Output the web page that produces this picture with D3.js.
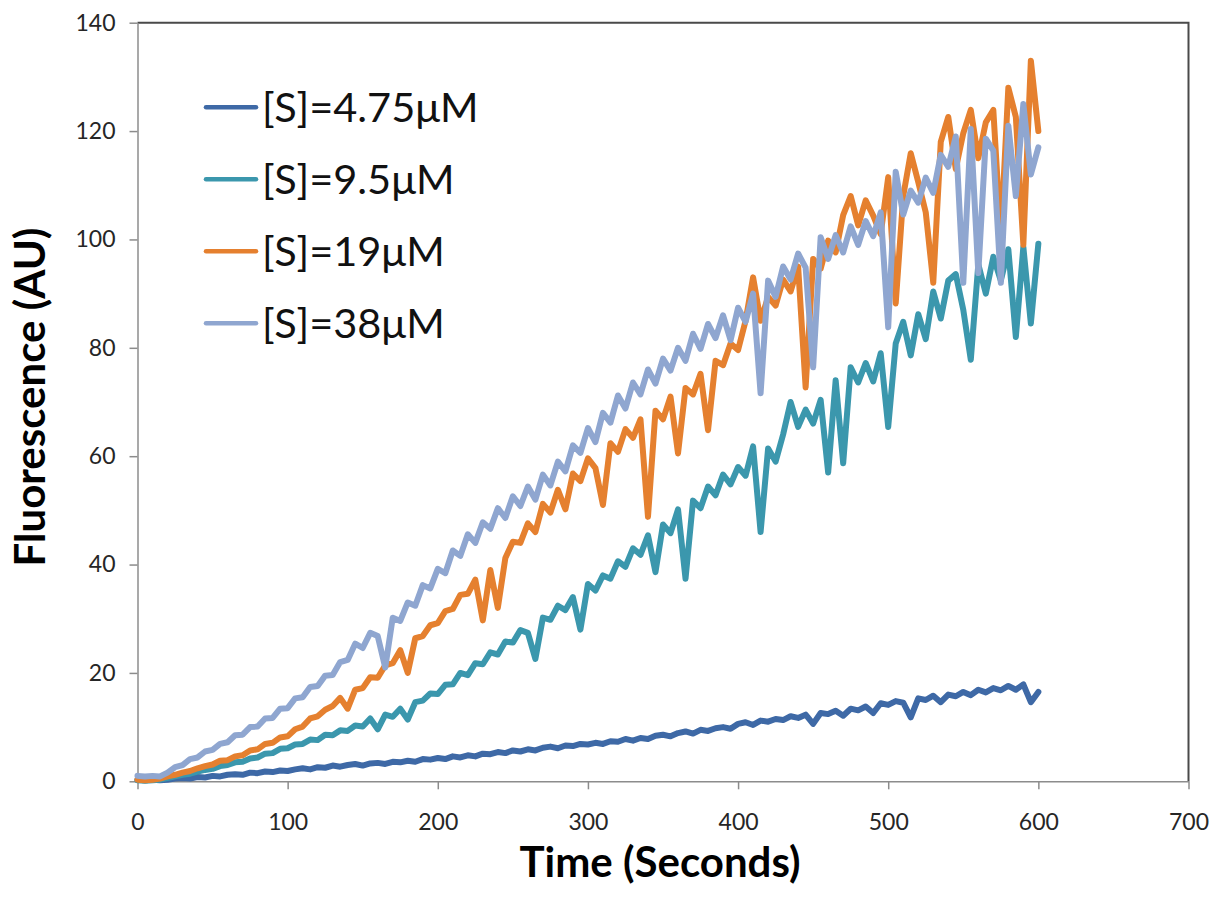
<!DOCTYPE html>
<html>
<head>
<meta charset="utf-8">
<script src="https://cdn.jsdelivr.net/npm/d3@7/dist/d3.min.js"></script>
<style>
  html, body { margin: 0; padding: 0; background: #ffffff; }
  svg { display: block; }
  .tick text { font-family: Lato, "Open Sans", sans-serif; font-size: 23px; fill: #262626; }
</style>
</head>
<body>
<svg id="chart" width="1212" height="907"></svg>
<script>
// Sampling grid (seconds)
const timeSeconds = d3.range(0, 605, 5);

// Fluorescence readings (AU) for each substrate concentration, one per 5 s
const s475 = [
  0.3, 0.2, 0.3, 0.2, 0.3, 0.5, 0.6, 0.5, 0.8, 0.7,
  1.0, 0.9, 1.2, 1.3, 1.2, 1.6, 1.5, 1.8, 1.7, 2.0,
  1.9, 2.2, 2.4, 2.2, 2.6, 2.5, 2.9, 2.7, 3.0, 3.2,
  2.9, 3.3, 3.4, 3.2, 3.6, 3.5, 3.8, 3.6, 4.1, 4.0,
  4.3, 4.1, 4.6, 4.4, 4.8, 4.6, 5.1, 5.0, 5.4, 5.2,
  5.7, 5.5, 5.9, 5.7, 6.2, 6.4, 6.1, 6.6, 6.5, 6.9,
  6.8, 7.1, 6.9, 7.4, 7.3, 7.8, 7.5, 8.0, 7.8, 8.4,
  8.6, 8.3, 8.9, 9.2, 8.8, 9.5, 9.3, 9.8, 10.0, 9.7,
  10.6, 10.9, 10.4, 11.2, 11.0, 11.5, 11.3, 12.0, 11.7, 12.3,
  10.6, 12.6, 12.4, 13.0, 12.1, 13.4, 13.1, 13.8, 12.6, 14.4,
  14.1, 14.8, 14.5, 11.8, 15.3, 15.0, 15.8, 14.6, 16.0, 15.7,
  16.5, 15.9, 16.9, 16.4, 17.2, 16.8, 17.6, 16.9, 17.9, 14.6,
  16.5
];
const s95 = [
  0.2, 0.1, 0.2, 0.3, 0.6, 0.9, 1.2, 1.4, 1.8, 2.1,
  2.3, 2.8, 3.0, 3.5, 3.6, 4.2, 4.4, 5.1, 5.2, 6.0,
  6.1, 6.8, 6.9, 7.7, 7.6, 8.6, 8.5, 9.4, 9.3, 10.3,
  10.1, 11.6, 9.6, 12.3, 11.9, 13.4, 11.4, 14.6, 14.9, 16.2,
  16.1, 17.8, 17.9, 20.0, 19.6, 21.8, 21.6, 23.8, 23.4, 25.8,
  25.6, 27.9, 27.4, 22.6, 30.2, 29.8, 32.4, 31.6, 34.0, 28.0,
  36.4, 35.2, 38.0, 37.4, 40.6, 39.6, 43.0, 41.8, 45.4, 38.6,
  47.4, 45.8, 50.2, 37.4, 51.8, 50.4, 54.4, 52.8, 56.6, 54.8,
  58.0, 56.4, 61.8, 46.0, 61.4, 59.0, 64.0, 70.0, 65.4, 68.6,
  66.0, 70.4, 57.0, 74.0, 58.7, 76.4, 73.6, 77.2, 73.8, 79.0,
  65.4, 80.8, 84.8, 78.6, 86.2, 81.6, 90.4, 85.4, 92.4, 93.6,
  87.0, 77.8, 95.4, 90.0, 96.8, 92.4, 98.2, 82.0, 98.6, 84.5,
  99.2
];
const s19 = [
  0.3, 0.2, 0.3, 0.5, 0.9, 1.2, 1.6, 1.9, 2.4, 2.8,
  3.1, 3.8, 3.9, 4.6, 4.8, 5.7, 5.9, 6.9, 7.1, 8.1,
  8.3, 9.6, 10.1, 11.6, 12.0, 13.2, 13.9, 15.4, 13.4, 16.9,
  17.2, 19.2, 19.1, 21.4, 21.8, 24.2, 20.0, 26.4, 26.8, 28.8,
  29.2, 31.4, 31.8, 34.4, 34.6, 37.2, 29.7, 39.0, 32.0, 41.2,
  44.2, 44.0, 47.6, 46.0, 51.2, 49.6, 53.8, 50.2, 56.8, 55.4,
  59.6, 57.8, 51.0, 62.4, 60.8, 65.0, 63.4, 66.8, 48.8, 68.4,
  66.8, 71.0, 60.5, 72.6, 71.4, 75.2, 64.8, 77.6, 76.8, 80.8,
  79.6, 85.0, 93.0, 85.0, 89.4, 87.8, 92.6, 90.4, 95.0, 72.7,
  96.4, 94.6, 99.8, 97.6, 104.5, 108.0, 102.6, 107.2, 104.4, 101.0,
  111.5, 88.2, 108.0, 115.9, 110.6, 105.0, 92.0, 118.0, 122.6, 113.0,
  119.6, 123.9, 115.0, 121.6, 123.9, 100.4, 128.0, 122.6, 99.0, 133.0,
  120.0
];
const s38 = [
  1.0, 0.9, 1.0, 0.9, 1.6, 2.6, 3.0, 4.1, 4.4, 5.5,
  5.8, 6.9, 7.2, 8.5, 8.6, 10.0, 10.1, 11.6, 11.7, 13.4,
  13.5, 15.3, 15.5, 17.4, 17.6, 19.5, 19.6, 22.0, 22.4, 25.4,
  24.6, 27.4, 26.8, 21.0, 30.2, 29.6, 33.0, 32.4, 36.2, 35.6,
  39.2, 38.4, 42.6, 41.6, 45.6, 44.0, 47.8, 46.6, 50.4, 48.6,
  52.6, 50.8, 54.4, 52.0, 56.6, 54.6, 59.0, 57.2, 62.0, 60.6,
  65.2, 62.6, 68.0, 66.2, 71.2, 68.8, 73.6, 71.4, 76.0, 73.4,
  78.0, 75.8, 80.0, 77.6, 82.6, 79.8, 84.4, 81.8, 86.0, 81.4,
  87.4, 84.8, 90.0, 71.6, 92.4, 89.4, 95.0, 92.6, 97.4, 94.8,
  76.4, 100.4, 96.4, 100.8, 97.6, 102.4, 99.0, 103.4, 100.6, 105.0,
  83.8, 112.5, 104.6, 109.0, 106.8, 111.4, 108.6, 115.6, 113.4, 119.0,
  92.0, 120.4, 93.8, 118.6, 116.4, 92.0, 121.0, 108.0, 125.0, 112.0,
  117.0
];

const seriesNames = ["[S]=4.75\u03bcM", "[S]=9.5\u03bcM", "[S]=19\u03bcM", "[S]=38\u03bcM"];
const seriesColors = ["#3e69a6", "#3b97ad", "#e5802f", "#8fa6d0"];
const seriesValues = [s475, s95, s19, s38];

const xTicks = [0, 100, 200, 300, 400, 500, 600, 700];
const yTicks = [0, 20, 40, 60, 80, 100, 120, 140];

const svg = d3.select("#chart");
const plot = { left: 137.5, top: 22.7, right: 1188.5, bottom: 781.3 };

const x = d3.scaleLinear().domain([0, 700]).range([plot.left, plot.right]);
const y = d3.scaleLinear().domain([0, 140]).range([plot.bottom, plot.top]);

// Frame: top and right edges of the plot area
svg.append("path")
  .attr("d", `M${plot.left},${plot.top}H${plot.right}V${plot.bottom}`)
  .attr("fill", "none")
  .attr("stroke", "#4a4a4a")
  .attr("stroke-width", 2);

// Axes
const yAxis = svg.append("g")
  .attr("transform", `translate(${plot.left},0)`)
  .call(d3.axisLeft(y).tickValues(yTicks).tickSize(8).tickPadding(14).tickSizeOuter(0));
const xAxis = svg.append("g")
  .attr("transform", `translate(0,${plot.bottom})`)
  .call(d3.axisBottom(x).tickValues(xTicks).tickSize(8).tickPadding(24).tickSizeOuter(0));
[xAxis, yAxis].forEach(g => {
  g.select(".domain").attr("stroke", "#8c8c8c").attr("stroke-width", 1.5);
  g.selectAll(".tick line").attr("stroke", "#8c8c8c").attr("stroke-width", 1.5);
});

// Data lines
const line = d3.line()
  .x((d, i) => x(timeSeconds[i]))
  .y(d => y(d));

svg.append("g").selectAll("path")
  .data(seriesValues)
  .join("path")
  .attr("d", d => line(d))
  .attr("fill", "none")
  .attr("stroke", (d, i) => seriesColors[i])
  .attr("stroke-width", 6)
  .attr("stroke-linejoin", "round")
  .attr("stroke-linecap", "round");

// Legend
const legend = svg.append("g").attr("font-family", "Lato, 'Open Sans', sans-serif");
const legendRow = d3.scalePoint().domain(d3.range(4)).range([107.3, 323.3]);
seriesNames.forEach((name, i) => {
  const yy = legendRow(i);
  legend.append("line")
    .attr("x1", 206).attr("x2", 256)
    .attr("y1", yy).attr("y2", yy)
    .attr("stroke", seriesColors[i])
    .attr("stroke-width", 4.5)
    .attr("stroke-linecap", "round");
  legend.append("text")
    .attr("x", 262).attr("y", yy + 15)
    .attr("font-size", 41.5)
    .attr("fill", "#111")
    .text(name);
});

// Axis titles
svg.append("text")
  .attr("x", 660).attr("y", 877)
  .attr("text-anchor", "middle")
  .attr("font-family", "Lato, 'Open Sans', sans-serif")
  .attr("font-weight", "bold")
  .attr("font-size", 42)
  .attr("fill", "#000")
  .text("Time (Seconds)");

svg.append("text")
  .attr("transform", "translate(45,397) rotate(-90)")
  .attr("text-anchor", "middle")
  .attr("font-family", "Lato, 'Open Sans', sans-serif")
  .attr("font-weight", "bold")
  .attr("font-size", 42)
  .attr("fill", "#000")
  .text("Fluorescence (AU)");
</script>
</body>
</html>
